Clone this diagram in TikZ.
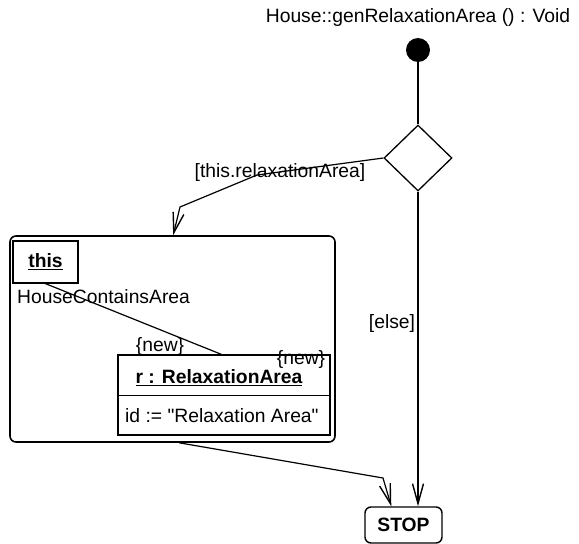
\documentclass[tikz,border=0pt]{standalone}
\usepackage{fontspec}
\setmainfont{Liberation Sans}
\newfontfamily\attrfont{Liberation Sans}[Ligatures=TeXOff]
\usetikzlibrary{shapes.geometric,arrows.meta,calc}
\begin{document}
\begin{tikzpicture}[x=1pt,y=-1pt,
  every node/.style={font=\fontsize{19.3}{22}\selectfont},
  txt/.style={inner sep=0pt},
  line/.style={line width=1.2pt},
  flow/.style={line width=1.2pt,-{Straight Barb[length=20pt,width=11pt,line width=1.4pt]}},
  box/.style={draw,line width=1.3pt,inner sep=0pt},
  roundbox/.style={box,rounded corners=6pt}]
\useasboundingbox[fill=white] (0,0) rectangle (579,544);

% method signature and initial state
\node[txt] (title) at (418,18) {House::genRelaxationArea () : Void};
\node[circle,fill,inner sep=0pt,minimum size=24pt] (start) at (418,50) {};

% branch
\node[diamond,box,minimum width=68pt,minimum height=66pt] (dec) at (418,158) {};

% story activity with its object pattern
\node[roundbox,line width=1.6pt,minimum width=325pt,minimum height=206pt] (act) at (172.5,339) {};
\node[box,minimum width=65pt,minimum height=42pt] (this) at (45.5,262) {\textbf{\underline{this}}};
\node[txt,anchor=west] (assoc) at (17,297) {HouseContainsArea};
\node[box,minimum width=212pt,minimum height=80pt] (rbox) at (224,395) {};
\draw[line] ($(rbox.north west)+(0,41)$) -- ($(rbox.north east)+(0,41)$);
\node[txt] (rname) at (219,378) {\textbf{\underline{r : RelaxationArea}}};
\node[txt] (rnew) at (301,360) {\{new\}};
\node[txt,anchor=west] (rattr) at (125,416) {\attrfont id := "Relaxation Area"};
\draw[line] (this.south) -- ($(rbox.north west)+(104,0)$);
\node[txt] (lnew) at (160,347) {\{new\}};

% final state
\node[roundbox,line width=1.4pt,minimum width=77pt,minimum height=36pt] (stop) at (403.5,525) {\textbf{STOP}};

% transitions
\draw[line] (start) -- (dec.north);
\coordinate (b1) at (257,175);
\coordinate (b2) at (180,207);
\draw[flow] (dec.west) -- (b1) -- (b2) -- ($(act.north west)+(164,0)$);
\node[txt] (guard) at (280,173) {[this.relaxationArea]};
\draw[flow] (dec.south) -- (dec.south |- stop.north);
\node[txt] (elselbl) at (392,324) {[else]};
\coordinate (b3) at (383,478);
\draw[flow] ($(act.south west)+(170,0)$) -- (b3) -- ($(stop.north west)+(27,0)$);
\end{tikzpicture}
\end{document}
